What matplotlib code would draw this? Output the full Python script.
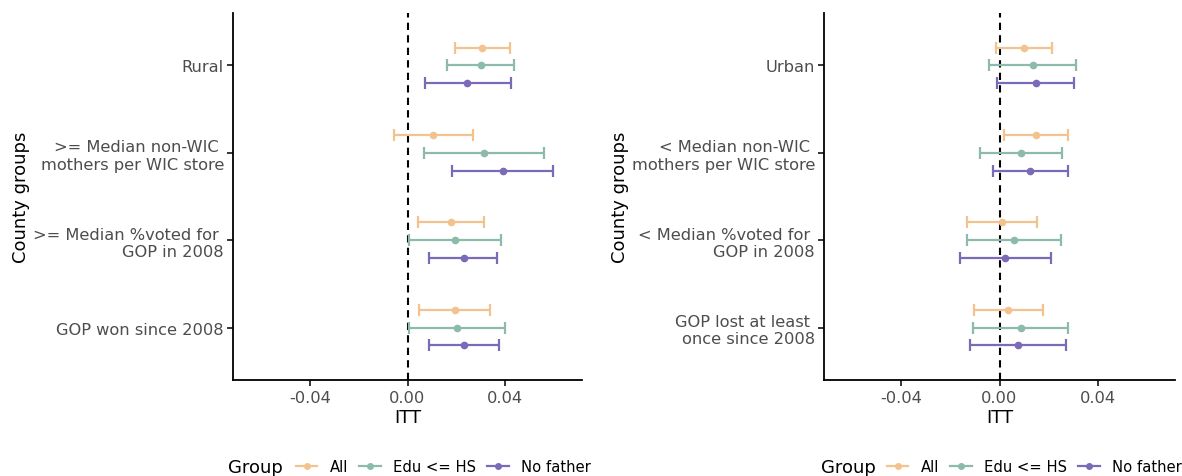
import numpy as np
import matplotlib.pyplot as plt
from matplotlib.lines import Line2D

groups = ['All', 'Edu <= HS', 'No father']
colors = ['#F3C38F', '#8DBBAB', '#7B6AB7']

left_labels = ['Rural',
               '>= Median non-WIC \nmothers per WIC store',
               '>= Median %voted for \nGOP in 2008',
               'GOP won since 2008']
right_labels = ['Urban',
                '< Median non-WIC \nmothers per WIC store',
                '< Median %voted for \nGOP in 2008',
                'GOP lost at least \nonce since 2008']

# estimates and 95% CI, rows = county groups, cols = All / Edu <= HS / No father
left_est = np.array([[0.0306, 0.0300, 0.0246],
                     [0.0105, 0.0315, 0.0391],
                     [0.0178, 0.0196, 0.0230],
                     [0.0193, 0.0202, 0.0231]])
left_lo = np.array([[0.0194, 0.0161, 0.0071],
                    [-0.0057, 0.0067, 0.0182],
                    [0.0045, 0.0007, 0.0090],
                    [0.0046, 0.0007, 0.0087]])
left_hi = np.array([[0.0419, 0.0438, 0.0423],
                    [0.0269, 0.0561, 0.0599],
                    [0.0312, 0.0384, 0.0368],
                    [0.0339, 0.0399, 0.0375]])

right_est = np.array([[0.0101, 0.0135, 0.0147],
                      [0.0150, 0.0088, 0.0126],
                      [0.0011, 0.0058, 0.0023],
                      [0.0035, 0.0087, 0.0077]])
right_lo = np.array([[-0.0013, -0.0041, -0.0009],
                     [0.0020, -0.0078, -0.0026],
                     [-0.0132, -0.0134, -0.0163],
                     [-0.0103, -0.0108, -0.0120]])
right_hi = np.array([[0.0214, 0.0311, 0.0304],
                     [0.0278, 0.0254, 0.0280],
                     [0.0153, 0.0250, 0.0210],
                     [0.0177, 0.0281, 0.0273]])

xticks = [-0.04, 0.0, 0.04]
xticklabels = ['-0.04', '0.00', '0.04']

fig = plt.figure(figsize=(11.82, 4.77), dpi=100)


def panel(rect, labels, est, lo, hi):
    ax = fig.add_axes(rect)
    ypos = np.arange(1, len(labels) + 1)
    offsets = [-0.205, 0.0, 0.205]
    ax.axvline(0, color='black', linestyle=(0, (3.5, 2.5)), linewidth=1.5, zorder=1)
    for j in range(len(groups)):
        y = ypos + offsets[j]
        ax.errorbar(est[:, j], y,
                    xerr=[est[:, j] - lo[:, j], hi[:, j] - est[:, j]],
                    fmt='o', color=colors[j], markersize=4.5,
                    elinewidth=1.6, capsize=4, capthick=1.6, zorder=2)
    ax.set_yticks(ypos)
    ax.set_yticklabels(labels, fontsize=11.7, color='#4D4D4D', ha='right',
                       multialignment='right')
    ax.set_ylim(4.6, 0.4)
    ax.set_xlim(-0.0716, 0.0716)
    ax.set_xticks(xticks)
    ax.set_xticklabels(xticklabels, fontsize=11.7, color='#4D4D4D')
    ax.set_xlabel('ITT', fontsize=13, labelpad=2)
    ax.set_ylabel('County groups', fontsize=13, labelpad=2)
    for s in ['top', 'right']:
        ax.spines[s].set_visible(False)
    for s in ['left', 'bottom']:
        ax.spines[s].set_linewidth(1.3)
    ax.tick_params(length=4, width=1.1, color='black')
    ax.tick_params(axis='y', pad=2.5)
    return ax


ax1 = panel([233 / 1182, 96 / 477, 349 / 1182, 367 / 477],
            left_labels, left_est, left_lo, left_hi)
ax2 = panel([824 / 1182, 96 / 477, 351 / 1182, 367 / 477],
            right_labels, right_est, right_lo, right_hi)

handles = [Line2D([0], [0], color=c, marker='o', markersize=4, linewidth=1.6)
           for c in colors]

for xg, xl in [(228, 296), (821, 887)]:
    fig.text(xg / 1182, 1 - 468 / 477, 'Group', fontsize=13,
             ha='left', va='center')
    fig.legend(handles, groups, loc='center left', ncol=3,
               bbox_to_anchor=(xl / 1182, 1 - 468 / 477), frameon=False,
               fontsize=10.6, handlelength=1.45, handletextpad=0.85,
               columnspacing=0.75, borderaxespad=0, borderpad=0)

fig.savefig('out.png', dpi=100)
